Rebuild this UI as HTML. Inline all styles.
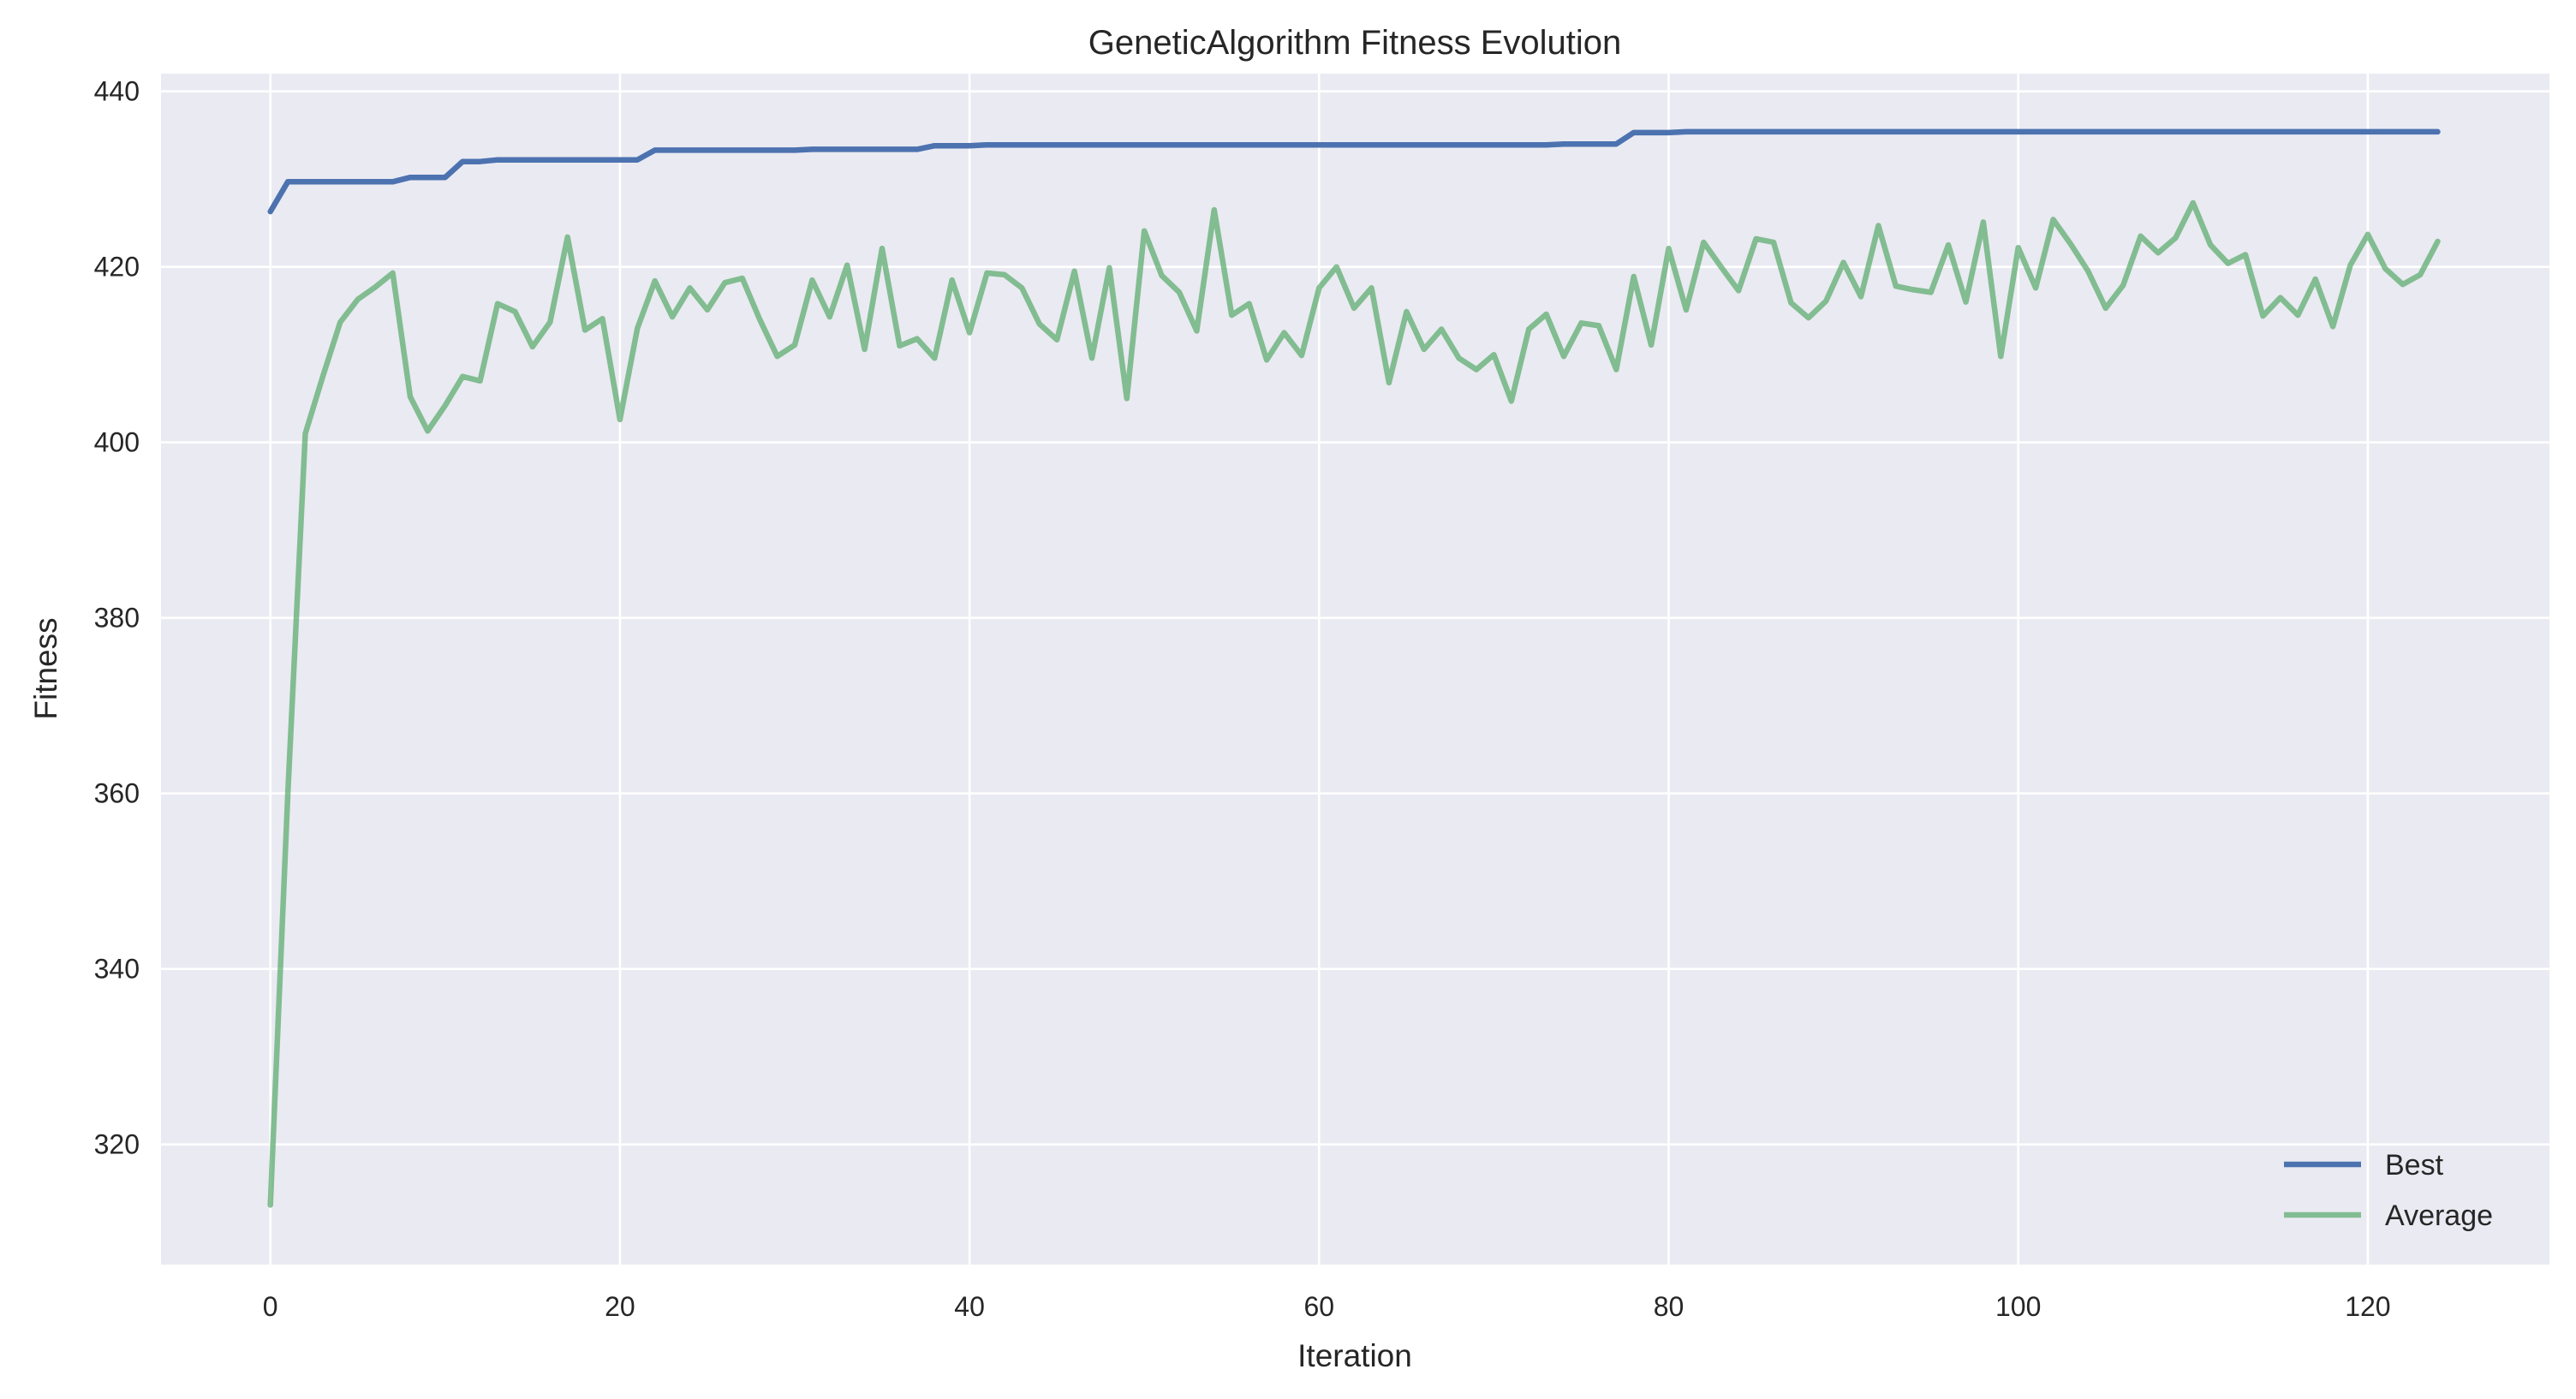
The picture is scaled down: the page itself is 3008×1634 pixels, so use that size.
<!DOCTYPE html>
<html><head><meta charset="utf-8"><style>
html,body{margin:0;padding:0;background:#fff;}
svg{display:block;font-family:"Liberation Sans","DejaVu Sans",sans-serif;}
</style></head><body>
<svg id="chart" width="3008" height="1634" viewBox="0 0 3008 1634" xmlns="http://www.w3.org/2000/svg">
<rect x="0" y="0" width="3008" height="1634" fill="#ffffff"/>
<rect x="188" y="86" width="2789" height="1391" fill="#eaeaf2"/>
<g id="grid"></g>
<g id="series"></g>
<g id="ticks"></g>
<text x="1582" y="63" text-anchor="middle" font-size="40" fill="#262626">GeneticAlgorithm Fitness Evolution</text>
<text x="1582" y="1596" text-anchor="middle" font-size="37" fill="#262626">Iteration</text>
<text transform="translate(66,781) rotate(-90)" text-anchor="middle" font-size="37" fill="#262626">Fitness</text>
<g>
<g>
<line x1="2667" y1="1360" x2="2757" y2="1360" stroke="#4c72b0" stroke-width="6.5"/>
<text x="2785" y="1372" font-size="34" fill="#262626">Best</text>
</g>
<g>
<line x1="2667" y1="1419" x2="2757" y2="1419" stroke="#55a868" stroke-opacity="0.7" stroke-width="6.5"/>
<text x="2785" y="1431" font-size="34" fill="#262626">Average</text>
</g>
</g>
</svg>
<script>
const bestValues=[426.3,429.7,429.7,429.7,429.7,429.7,429.7,429.7,430.2,430.2,430.2,432,432,432.2,432.2,432.2,432.2,432.2,432.2,432.2,432.2,432.2,433.3,433.3,433.3,433.3,433.3,433.3,433.3,433.3,433.3,433.4,433.4,433.4,433.4,433.4,433.4,433.4,433.8,433.8,433.8,433.9,433.9,433.9,433.9,433.9,433.9,433.9,433.9,433.9,433.9,433.9,433.9,433.9,433.9,433.9,433.9,433.9,433.9,433.9,433.9,433.9,433.9,433.9,433.9,433.9,433.9,433.9,433.9,433.9,433.9,433.9,433.9,433.9,434,434,434,434,435.3,435.3,435.3,435.4,435.4,435.4,435.4,435.4,435.4,435.4,435.4,435.4,435.4,435.4,435.4,435.4,435.4,435.4,435.4,435.4,435.4,435.4,435.4,435.4,435.4,435.4,435.4,435.4,435.4,435.4,435.4,435.4,435.4,435.4,435.4,435.4,435.4,435.4,435.4,435.4,435.4,435.4,435.4,435.4,435.4,435.4,435.4];
const avgValues=[313.1,360,401,407.5,413.7,416.3,417.7,419.3,405.2,401.3,404.2,407.5,407,415.8,414.9,410.9,413.7,423.4,412.8,414.1,402.6,413,418.4,414.3,417.6,415.1,418.2,418.7,414,409.8,411.1,418.5,414.3,420.2,410.6,422.1,411,411.8,409.6,418.5,412.5,419.3,419.1,417.6,413.5,411.7,419.5,409.6,419.9,405,424.1,419,417.1,412.7,426.5,414.5,415.8,409.4,412.5,409.9,417.6,420,415.3,417.6,406.8,414.9,410.6,412.9,409.6,408.3,410,404.7,412.9,414.6,409.8,413.6,413.3,408.3,418.9,411.1,422.1,415.1,422.8,420,417.3,423.2,422.8,415.9,414.2,416.1,420.5,416.6,424.7,417.8,417.4,417.1,422.5,416,425.1,409.8,422.2,417.6,425.4,422.6,419.5,415.3,417.9,423.5,421.6,423.3,427.3,422.5,420.4,421.4,414.4,416.5,414.5,418.6,413.2,420.2,423.7,419.8,418,419.1,422.9];
const xTicks=[0,20,40,60,80,100,120];
const yTicks=[320,340,360,380,400,420,440];

const NS="http://www.w3.org/2000/svg";
function xs(i){return 315.7+20.41*i;}
function ys(v){return 311.7+(420-v)*10.25;}
const grid=document.getElementById('grid');
const ticks=document.getElementById('ticks');
const series=document.getElementById('series');
xTicks.forEach(t=>{
  const l=document.createElementNS(NS,'line');
  l.setAttribute('x1',xs(t));l.setAttribute('x2',xs(t));l.setAttribute('y1',86);l.setAttribute('y2',1477);
  l.setAttribute('stroke','#fff');l.setAttribute('stroke-width','2.6');
  
  
  grid.appendChild(l);
  const tx=document.createElementNS(NS,'text');
  tx.setAttribute('x',xs(t));tx.setAttribute('y',1537);tx.setAttribute('text-anchor','middle');
  tx.setAttribute('font-size','32');tx.setAttribute('fill','#262626');tx.textContent=t;
  
  
  ticks.appendChild(tx);
});
yTicks.forEach(t=>{
  const l=document.createElementNS(NS,'line');
  l.setAttribute('x1',188);l.setAttribute('x2',2977);l.setAttribute('y1',ys(t));l.setAttribute('y2',ys(t));
  l.setAttribute('stroke','#fff');l.setAttribute('stroke-width','2.6');
  
  
  grid.appendChild(l);
  const tx=document.createElementNS(NS,'text');
  tx.setAttribute('x',163);tx.setAttribute('y',ys(t)+11);tx.setAttribute('text-anchor','end');
  tx.setAttribute('font-size','32');tx.setAttribute('fill','#262626');tx.textContent=t;
  
  
  ticks.appendChild(tx);
});
function pathFor(vals){return vals.map((v,i)=>(i?'L':'M')+xs(i).toFixed(1)+','+ys(v).toFixed(1)).join(' ');}
const pb=document.createElementNS(NS,'path');
pb.setAttribute('d',pathFor(bestValues));pb.setAttribute('fill','none');pb.setAttribute('stroke','#4c72b0');
pb.setAttribute('stroke-width','6.5');pb.setAttribute('stroke-linejoin','round');pb.setAttribute('stroke-linecap','round');


series.appendChild(pb);
const pa=document.createElementNS(NS,'path');
pa.setAttribute('d',pathFor(avgValues));pa.setAttribute('fill','none');pa.setAttribute('stroke','#55a868');pa.setAttribute('stroke-opacity','0.7');
pa.setAttribute('stroke-width','6.5');pa.setAttribute('stroke-linejoin','round');pa.setAttribute('stroke-linecap','round');


series.appendChild(pa);
</script>
</body></html>
